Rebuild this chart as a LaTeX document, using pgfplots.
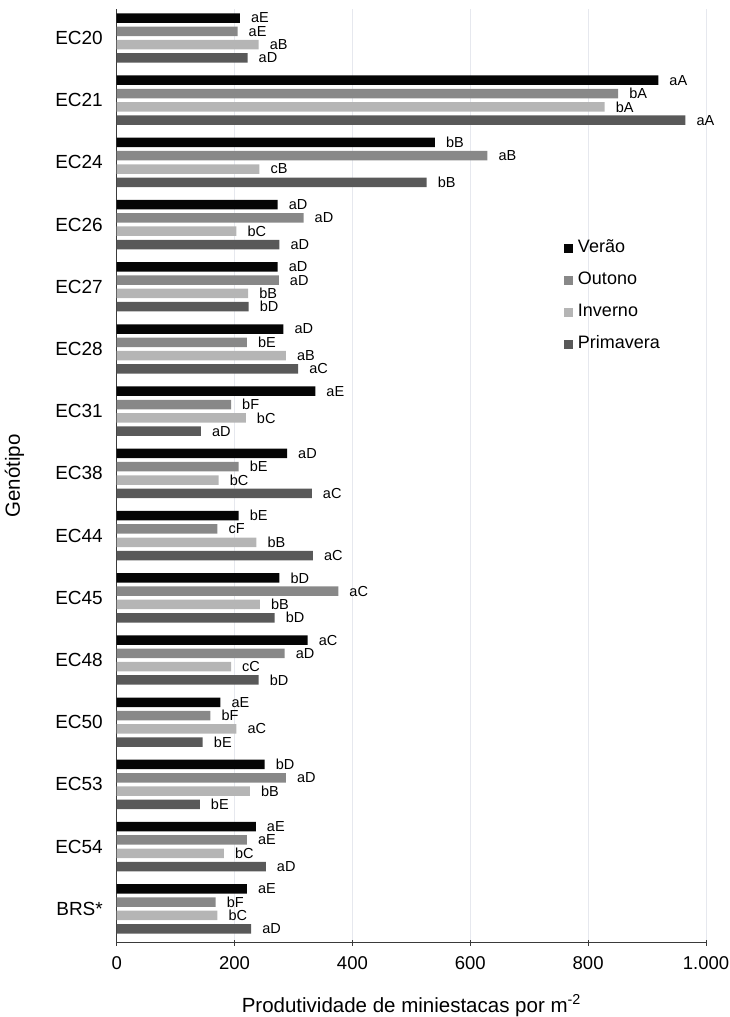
\documentclass[border=0pt]{standalone}
\usepackage{pgfplots}
\pgfplotsset{compat=1.18}
\usepackage{pgfplotstable}
\usepackage{fontspec}
\setmainfont{Liberation Sans}
\definecolor{cver}{HTML}{050505}
\definecolor{cout}{HTML}{888888}
\definecolor{cinv}{HTML}{B5B5B5}
\definecolor{cpri}{HTML}{595959}
\definecolor{gridc}{HTML}{E6E8EE}
\definecolor{axc}{HTML}{3A3A3A}

\pgfplotstableread{
g v l
0 209 aE
1 919 aA
2 540 bB
3 273 aD
4 273 aD
5 283 aD
6 337 aE
7 289 aD
8 207 bE
9 276 bD
10 324 aC
11 176 aE
12 251 bD
13 236 aE
14 221 aE
}\verao
\pgfplotstableread{
g v l
0 205 aE
1 851 bA
2 629 aB
3 317 aD
4 275 aD
5 221 bE
6 194 bF
7 207 bE
8 171 cF
9 376 aC
10 285 aD
11 159 bF
12 287 aD
13 221 aE
14 168 bF
}\outono
\pgfplotstableread{
g v l
0 241 aB
1 828 bA
2 242 cB
3 203 bC
4 223 bB
5 287 aB
6 219 bC
7 173 bC
8 237 bB
9 243 bB
10 194 cC
11 203 aC
12 226 bB
13 182 bC
14 171 bC
}\inverno
\pgfplotstableread{
g v l
0 222 aD
1 965 aA
2 526 bB
3 276 aD
4 224 bD
5 308 aC
6 143 aD
7 331 aC
8 333 aC
9 268 bD
10 241 bD
11 146 bE
12 141 bE
13 253 aD
14 228 aD
}\primavera

\begin{document}
\begin{tikzpicture}
\useasboundingbox (0,0) rectangle (730pt,1017pt);
\begin{axis}[
  at={(116.7pt,74.3pt)}, anchor=south west,
  width=589.3pt, height=933.7pt, scale only axis,
  xbar, bar width=9.5pt,
  xmin=0, xmax=1000,
  ymin=-0.466, ymax=14.545, y dir=reverse,
  axis x line*=bottom, axis y line*=left,
  axis line style={draw=axc, line width=0.9pt},
  xtick={0,200,...,1000},
  /pgf/number format/.cd, 1000 sep={.}, assume math mode=true, /pgfplots/.cd,
  xtick align=center,
  major tick length=6pt,
  xtick style={draw=axc, line width=0.9pt},
  ytick={0,...,14},
  yticklabels={EC20,EC21,EC24,EC26,EC27,EC28,EC31,EC38,EC44,EC45,EC48,EC50,EC53,EC54,BRS*},
  ytick style={draw=none},
  yticklabel style={font=\fontsize{19}{21}\selectfont, anchor=east, inner sep=0pt, xshift=-7.7pt},
  xticklabel style={font=\fontsize{18.5}{20}\selectfont, anchor=north, inner sep=0pt, yshift=-11pt},
  xmajorgrids, grid style={draw=gridc, line width=0.8pt},
  xlabel={Produtividade de miniestacas por m\textsuperscript{-2}},
  ylabel={Genótipo},
  xlabel style={font=\fontsize{20.5}{22}\selectfont, at={(axis description cs:0.5,0)}, anchor=north, inner sep=0pt, yshift=-52pt},
  ylabel style={font=\fontsize{20.5}{22}\selectfont, at={(axis description cs:-0.1734,0.5)}, anchor=center, inner sep=0pt},
  point meta=explicit symbolic,
  nodes near coords,
  nodes near coords style={font=\fontsize{14.5}{16}\selectfont, anchor=west, inner sep=0pt, xshift=11pt, text=black},
  clip=false,
  legend cell align=left,
  legend image code/.code={\fill[#1] (0pt,-4.65pt) rectangle (9.3pt,4.65pt);},
  legend style={at={(0.759,0.7547)}, anchor=north west, draw=none, fill=none,
    font=\fontsize{18}{20}\selectfont, inner sep=0pt, row sep=12pt,
    nodes={inner sep=1.5pt, text height=13pt, text depth=4pt},
    /tikz/every odd column/.append style={column sep=3pt}},
]
\addplot[fill=cver, draw=none, bar shift=19.95pt] table[x=v, y=g, meta=l] {\verao};
\addlegendentry{Verão}
\addplot[fill=cout, draw=none, bar shift=6.65pt] table[x=v, y=g, meta=l] {\outono};
\addlegendentry{Outono}
\addplot[fill=cinv, draw=none, bar shift=-6.65pt] table[x=v, y=g, meta=l] {\inverno};
\addlegendentry{Inverno}
\addplot[fill=cpri, draw=none, bar shift=-19.95pt] table[x=v, y=g, meta=l] {\primavera};
\addlegendentry{Primavera}
\end{axis}
\end{tikzpicture}
\end{document}
